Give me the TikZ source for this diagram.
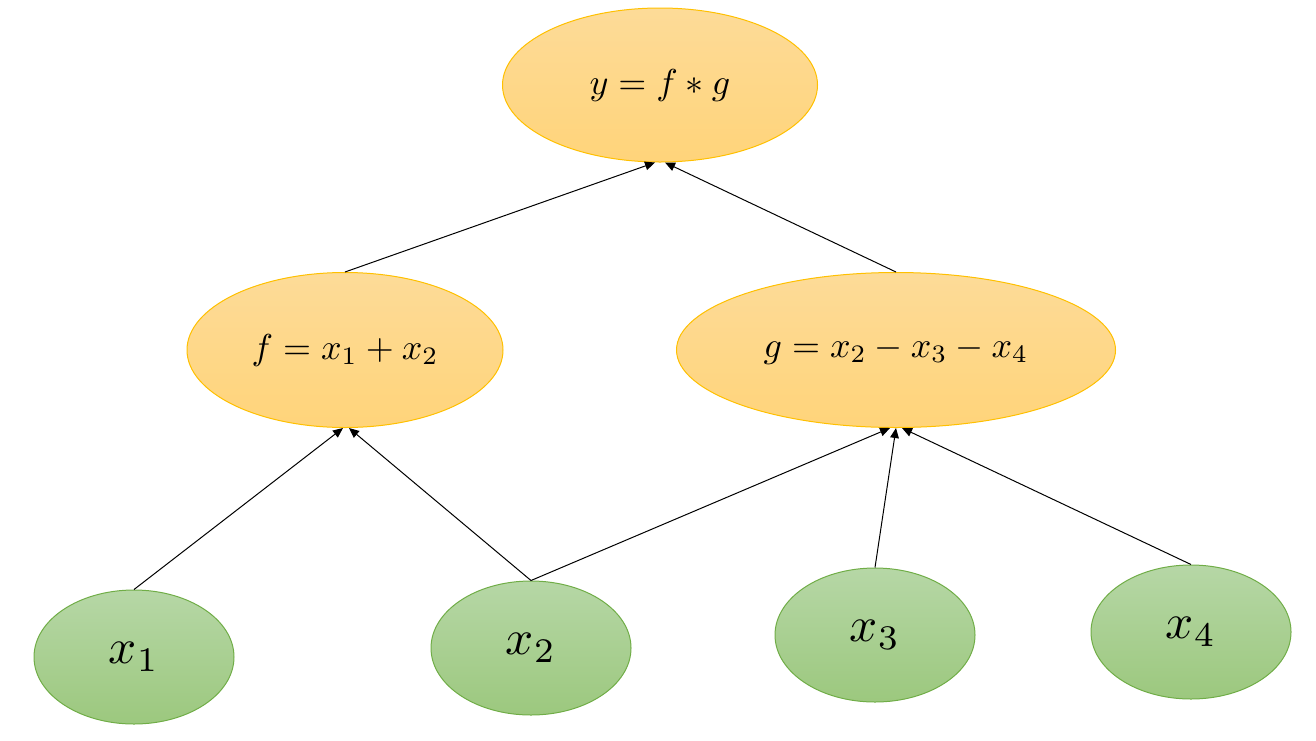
\documentclass[tikz,border=0pt]{standalone}
\usepackage{graphicx}
\usetikzlibrary{arrows.meta,shapes.geometric}
\definecolor{orTop}{RGB}{253,219,152}
\definecolor{orBot}{RGB}{255,212,122}
\definecolor{orLine}{RGB}{255,192,0}
\definecolor{grTop}{RGB}{182,215,166}
\definecolor{grBot}{RGB}{156,200,126}
\definecolor{grLine}{RGB}{112,173,71}
\newcommand{\optext}[1]{\scalebox{2.7}{$#1$}}
\newcommand{\vartext}[1]{\raisebox{-5pt}{\scalebox{3.7}{$#1$}}}
\tikzset{
  opnode/.style={ellipse, draw=orLine, line width=0.75pt, top color=orTop, bottom color=orBot, inner sep=0pt},
  varnode/.style={ellipse, draw=grLine, line width=0.75pt, top color=grTop, bottom color=grBot, inner sep=0pt, minimum width=150pt, minimum height=100.5pt},
  conn/.style={line width=0.75pt, -{Triangle[length=7.5pt,width=6.5pt]}}
}
\begin{document}
\begin{tikzpicture}[x=0.75pt,y=-0.75pt]
\useasboundingbox (0,0) rectangle (1316,740);
\node[opnode, minimum width=236.25pt, minimum height=115.5pt] (y) at (660,85) {\optext{y = f \ast g}};
\node[opnode, minimum width=237pt, minimum height=116.25pt] (f) at (345,350) {\optext{f = x_1 + x_2}};
\node[opnode, minimum width=329.25pt, minimum height=116.25pt] (g) at (896,350) {\optext{g = x_2 - x_3 - x_4}};
\node[varnode] (x1) at (134,657) {\vartext{x_1}};
\node[varnode] (x2) at (531,648) {\vartext{x_2}};
\node[varnode] (x3) at (875,635) {\vartext{x_3}};
\node[varnode] (x4) at (1191,632) {\vartext{x_4}};
\draw[conn] (f.north) -- ([xshift=-3.75pt]y.south);
\draw[conn] (g.north) -- ([xshift=3.75pt]y.south);
\draw[conn] (x1.north) -- ([xshift=-1.5pt]f.south);
\draw[conn] (x2.north) -- ([xshift=3pt]f.south);
\draw[conn] (x2.north) -- ([xshift=-4.5pt]g.south);
\draw[conn] (x3.north) -- (g.south);
\draw[conn] (x4.north) -- ([xshift=4.5pt]g.south);
\end{tikzpicture}
\end{document}
